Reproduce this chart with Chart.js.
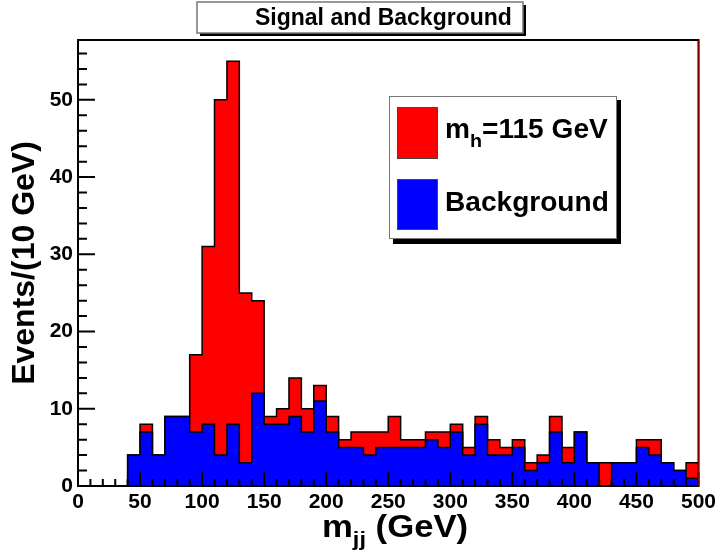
<!DOCTYPE html>
<html><head><meta charset="utf-8">
<script src="https://cdn.jsdelivr.net/npm/chart.js@4.4.1/dist/chart.umd.min.js"></script>
<style>html,body{margin:0;padding:0;background:#fff}#c{display:block}</style>
</head><body>
<canvas id="c" width="720" height="552"></canvas>
<script>
// ---- data (bins of 10 GeV, low edges) ----
const binLowEdges = [0,10,20,30,40,50,60,70,80,90,100,110,120,130,140,150,160,170,180,190,200,210,220,230,240,250,260,270,280,290,300,310,320,330,340,350,360,370,380,390,400,410,420,430,440,450,460,470,480,490];
const binUpperEdge = 500;
const background = [0,0,0,0,4,7,4,9,9,7,8,4,8,3,12,8,8,9,7,11,7,5,5,4,5,5,5,5,6,5,7,4,8,4,4,5,2,3,7,3,7,3,0,3,3,5,4,3,2,1];
const signal =     [0,0,0,0,0,1,0,0,0,10,23,46,47,22,12,1,2,5,3,2,2,1,2,3,2,4,1,1,1,2,1,1,1,2,1,1,1,1,2,2,0,0,3,0,0,1,2,0,0,2];
const xTickLabels = [0,50,100,150,200,250,300,350,400,450,500];
const yTickLabels = [0,10,20,30,40,50];
const yMax = 57.75;
const titleText = 'Signal and Background';
const legendSignal = ['m', 'h', '=115 GeV'];
const legendBackground = 'Background';
const xTitle = ['m', 'jj', ' (GeV)'];
const yTitle = 'Events/(10 GeV)';

const FONT = '"Liberation Sans", Arial, Helvetica, sans-serif';

function stepPoints(vals) {
  const pts = binLowEdges.map((x, i) => ({x, y: vals[i]}));
  pts.push({x: binUpperEdge, y: vals[vals.length - 1]});
  return pts;
}

function drawRich(ctx, parts, x, y, sx) {
  sx = sx || 1;
  ctx.save();
  ctx.translate(x, y);
  ctx.scale(sx, 1);
  let cx = 0;
  for (const p of parts) {
    ctx.font = 'bold ' + p.size + 'px ' + FONT;
    ctx.fillText(p.t, cx, (p.dy || 0));
    cx += ctx.measureText(p.t).width;
  }
  ctx.restore();
}

const decor = {
  id: 'decor',
  afterDatasetsDraw(chart) {
    const {ctx, chartArea: a, scales: {x, y}} = chart;
    ctx.save();
    ctx.strokeStyle = '#000';
    ctx.lineWidth = 2;
    ctx.beginPath();
    for (let v = 0; v <= 500; v += 10) {
      const px = x.getPixelForValue(v);
      const len = v % 50 === 0 ? 14 : 7;
      ctx.moveTo(px, a.bottom); ctx.lineTo(px, a.bottom - len);
    }
    for (let v = 0; v <= 56; v += 2) {
      const py = y.getPixelForValue(v);
      const len = v % 10 === 0 ? 17 : 9;
      ctx.moveTo(a.left, py); ctx.lineTo(a.left + len, py);
    }
    ctx.stroke();
    ctx.strokeRect(a.left, a.top, a.right - a.left, a.bottom - a.top);
    ctx.strokeStyle = '#ff0000'; ctx.lineWidth = 1;
    ctx.beginPath(); ctx.moveTo(a.right + 0.5, a.top); ctx.lineTo(a.right + 0.5, a.bottom); ctx.stroke();
    ctx.restore();
  },
  afterDraw(chart) {
    const ctx = chart.ctx;
    ctx.save();
    ctx.textBaseline = 'alphabetic';
    ctx.textAlign = 'left';
    // title box
    ctx.fillStyle = '#000';
    ctx.fillRect(200, 5, 326, 31);
    ctx.fillStyle = '#fff';
    ctx.fillRect(197, 2, 326, 31);
    ctx.strokeStyle = '#777'; ctx.lineWidth = 1.5;
    ctx.strokeRect(197, 2, 326, 31);
    ctx.fillStyle = '#000';
    drawRich(ctx, [{t: titleText, size: 23}], 255, 25);
    // legend box
    ctx.fillStyle = '#000';
    ctx.fillRect(393, 100, 228, 144);
    ctx.fillStyle = '#fff';
    ctx.fillRect(389, 96, 228, 143);
    ctx.strokeStyle = '#777'; ctx.lineWidth = 1;
    ctx.strokeRect(389.5, 96.5, 227, 142);
    ctx.fillStyle = '#ff0000'; ctx.fillRect(397, 107, 40, 51);
    ctx.strokeStyle = '#444'; ctx.strokeRect(397.5, 107.5, 40, 51);
    ctx.fillStyle = '#0000ff'; ctx.fillRect(397, 179, 40, 50);
    ctx.strokeRect(397.5, 179.5, 40, 50);
    ctx.fillStyle = '#000';
    drawRich(ctx, [{t: legendSignal[0], size: 27}, {t: legendSignal[1], size: 19, dy: 9}, {t: legendSignal[2], size: 27}], 445, 138, 1.04);
    drawRich(ctx, [{t: legendBackground, size: 27}], 445, 211, 1.04);
    // x title
    drawRich(ctx, [{t: xTitle[0], size: 31}, {t: xTitle[1], size: 21, dy: 9}, {t: xTitle[2], size: 31}], 322, 537, 1.12);
    ctx.restore();
  }
};

new Chart(document.getElementById('c'), {
  type: 'line',
  data: {
    datasets: [
      {label: 'Background', data: stepPoints(background), stepped: 'before', fill: 'origin',
       backgroundColor: '#0000ff', borderColor: '#000', borderWidth: 1.5, pointRadius: 0},
      {label: 'Signal', data: stepPoints(signal), stepped: 'before', fill: '-1',
       backgroundColor: '#ff0000', borderColor: '#000', borderWidth: 1.5, pointRadius: 0}
    ]
  },
  options: {
    responsive: false,
    animation: false,
    layout: {padding: {top: 40, right: 20, left: 0, bottom: 0}},
    plugins: {legend: {display: false}, tooltip: {enabled: false}},
    scales: {
      x: {
        type: 'linear', min: 0, max: 500,
        grid: {display: false, drawTicks: false}, border: {display: false},
        afterBuildTicks: s => { s.ticks = xTickLabels.map(v => ({value: v})); },
        afterFit: s => { s.height = 66; },
        ticks: {autoSkip: false, maxRotation: 0, padding: 4, color: '#000',
                font: {family: FONT, size: 21, weight: 'bold'}}
      },
      y: {
        stacked: true, min: 0, max: yMax,
        grid: {display: false, drawTicks: false}, border: {display: false},
        afterBuildTicks: s => { s.ticks = yTickLabels.map(v => ({value: v})); },
        afterFit: s => { s.width = 78; },
        ticks: {autoSkip: false, padding: 5, color: '#000',
                font: {family: FONT, size: 21, weight: 'bold'}},
        title: {display: true, text: yTitle, color: '#000', padding: {top: 6, bottom: 0},
                font: {family: FONT, size: 32, weight: 'bold'}}
      }
    }
  },
  plugins: [decor]
});
</script>
</body></html>
